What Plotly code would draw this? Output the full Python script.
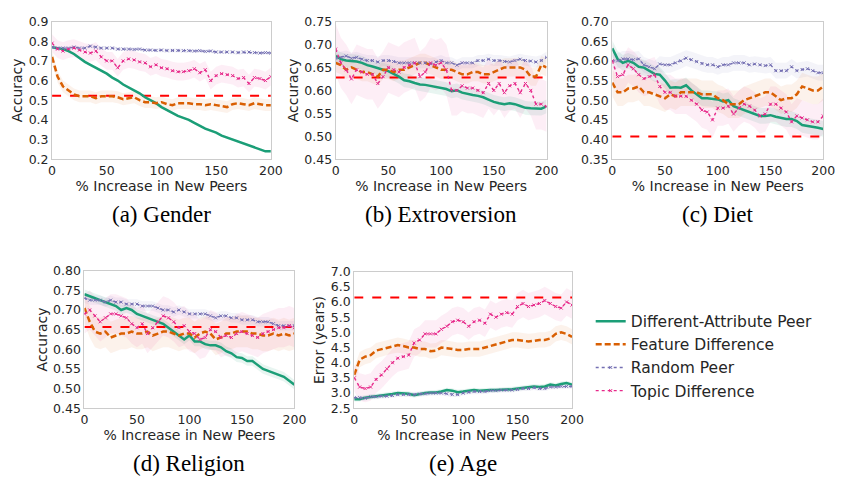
import plotly.graph_objects as go

x = list(range(0, 201, 5))

# (a) Gender
a_green = [0.77,0.765,0.76,0.75,0.735,0.715,0.695,0.68,0.665,0.65,0.635,0.615,0.6,0.58,0.565,0.55,0.535,0.515,0.5,0.485,0.465,0.45,0.435,0.42,0.41,0.4,0.385,0.37,0.355,0.345,0.335,0.32,0.31,0.3,0.29,0.28,0.27,0.26,0.25,0.24,0.24]
a_orange = [0.72,0.62,0.57,0.55,0.53,0.52,0.52,0.52,0.51,0.52,0.52,0.52,0.515,0.505,0.51,0.515,0.5,0.49,0.49,0.485,0.49,0.48,0.475,0.485,0.485,0.485,0.48,0.48,0.475,0.48,0.475,0.47,0.465,0.48,0.485,0.48,0.475,0.485,0.48,0.475,0.475]
a_purple = [0.77,0.765,0.765,0.765,0.77,0.765,0.765,0.775,0.77,0.765,0.765,0.765,0.76,0.76,0.76,0.758,0.76,0.755,0.755,0.753,0.755,0.752,0.753,0.753,0.752,0.752,0.75,0.752,0.748,0.75,0.745,0.745,0.745,0.745,0.742,0.745,0.745,0.742,0.74,0.742,0.74]
a_pink = [0.79,0.76,0.75,0.76,0.765,0.755,0.745,0.74,0.75,0.72,0.7,0.7,0.665,0.7,0.71,0.705,0.695,0.69,0.67,0.68,0.665,0.66,0.65,0.645,0.645,0.65,0.66,0.64,0.655,0.6,0.625,0.635,0.63,0.625,0.61,0.615,0.585,0.615,0.61,0.6,0.62]
a_base = 0.523

# (b) Extroversion
b_green = [0.675,0.668,0.665,0.664,0.663,0.66,0.655,0.652,0.648,0.645,0.642,0.636,0.63,0.622,0.62,0.616,0.613,0.612,0.61,0.607,0.605,0.603,0.598,0.6,0.595,0.592,0.59,0.588,0.585,0.58,0.575,0.572,0.57,0.572,0.57,0.566,0.562,0.561,0.56,0.56,0.565]
b_orange = [0.66,0.655,0.645,0.65,0.645,0.64,0.64,0.635,0.63,0.645,0.645,0.64,0.645,0.645,0.65,0.655,0.66,0.66,0.655,0.65,0.645,0.645,0.645,0.64,0.635,0.635,0.64,0.64,0.635,0.635,0.64,0.645,0.65,0.65,0.65,0.65,0.645,0.63,0.63,0.655,0.65]
b_purple = [0.67,0.672,0.675,0.67,0.672,0.668,0.665,0.665,0.662,0.665,0.665,0.663,0.66,0.66,0.66,0.66,0.66,0.66,0.658,0.662,0.665,0.66,0.66,0.655,0.66,0.66,0.66,0.665,0.665,0.668,0.665,0.665,0.663,0.662,0.665,0.668,0.665,0.664,0.662,0.665,0.672]
b_pink = [0.69,0.66,0.645,0.625,0.645,0.64,0.635,0.635,0.615,0.63,0.65,0.645,0.64,0.65,0.655,0.66,0.63,0.64,0.66,0.655,0.66,0.645,0.6,0.6,0.61,0.605,0.605,0.6,0.595,0.615,0.6,0.615,0.595,0.61,0.615,0.595,0.615,0.6,0.57,0.57,0.565]
b_base = 0.628

# (c) Diet
c_green = [0.632,0.605,0.595,0.6,0.595,0.585,0.583,0.575,0.567,0.565,0.55,0.532,0.533,0.532,0.538,0.525,0.515,0.505,0.505,0.503,0.502,0.497,0.5,0.485,0.48,0.475,0.47,0.465,0.46,0.46,0.462,0.458,0.455,0.452,0.452,0.447,0.437,0.435,0.433,0.43,0.427]
c_orange = [0.545,0.52,0.52,0.53,0.53,0.535,0.52,0.52,0.515,0.51,0.505,0.515,0.51,0.52,0.52,0.52,0.52,0.515,0.515,0.515,0.505,0.5,0.49,0.49,0.49,0.5,0.505,0.51,0.515,0.52,0.52,0.51,0.5,0.505,0.505,0.515,0.535,0.53,0.525,0.525,0.535]
c_purple = [0.6,0.6,0.605,0.605,0.603,0.605,0.59,0.585,0.58,0.592,0.59,0.59,0.595,0.6,0.607,0.603,0.598,0.593,0.59,0.59,0.585,0.59,0.59,0.595,0.595,0.595,0.59,0.592,0.59,0.588,0.59,0.575,0.575,0.575,0.585,0.575,0.578,0.58,0.575,0.57,0.57]
c_pink = [0.6,0.56,0.565,0.59,0.58,0.565,0.555,0.56,0.565,0.535,0.52,0.52,0.51,0.51,0.51,0.5,0.49,0.475,0.47,0.45,0.48,0.48,0.485,0.465,0.48,0.49,0.485,0.475,0.46,0.465,0.49,0.49,0.48,0.47,0.445,0.46,0.455,0.45,0.445,0.445,0.46]
c_base = 0.408

# (d) Religion
d_green = [0.74,0.735,0.73,0.725,0.72,0.715,0.71,0.7,0.705,0.7,0.69,0.685,0.68,0.675,0.67,0.665,0.655,0.645,0.635,0.625,0.635,0.62,0.62,0.613,0.61,0.61,0.605,0.595,0.59,0.58,0.578,0.57,0.57,0.56,0.55,0.545,0.54,0.535,0.53,0.52,0.51]
d_orange = [0.705,0.67,0.645,0.64,0.645,0.63,0.635,0.64,0.64,0.645,0.64,0.64,0.645,0.635,0.64,0.645,0.645,0.64,0.635,0.64,0.64,0.63,0.64,0.645,0.64,0.625,0.63,0.64,0.64,0.645,0.645,0.645,0.64,0.64,0.635,0.635,0.64,0.635,0.64,0.635,0.64]
d_purple = [0.73,0.725,0.725,0.725,0.72,0.725,0.72,0.72,0.715,0.715,0.715,0.71,0.71,0.71,0.705,0.7,0.7,0.695,0.7,0.695,0.69,0.69,0.69,0.69,0.685,0.68,0.685,0.685,0.68,0.68,0.675,0.675,0.675,0.67,0.67,0.67,0.665,0.66,0.66,0.66,0.66]
d_pink = [0.69,0.7,0.685,0.67,0.68,0.69,0.69,0.685,0.68,0.665,0.655,0.665,0.64,0.655,0.67,0.685,0.68,0.67,0.655,0.66,0.645,0.64,0.625,0.63,0.65,0.645,0.63,0.635,0.63,0.64,0.645,0.64,0.635,0.63,0.64,0.645,0.65,0.655,0.655,0.66,0.655]
d_base = 0.657

# (e) Age
e_green = [2.8,2.8,2.85,2.87,2.9,2.92,2.95,2.97,3.0,3.0,2.98,2.93,2.97,3.0,3.02,3.02,3.05,3.1,3.08,3.03,3.05,3.08,3.1,3.08,3.1,3.1,3.1,3.12,3.12,3.13,3.15,3.18,3.2,3.22,3.2,3.22,3.28,3.25,3.3,3.33,3.28]
e_orange = [3.6,4.1,4.2,4.25,4.4,4.45,4.5,4.55,4.58,4.55,4.5,4.5,4.45,4.45,4.38,4.4,4.5,4.48,4.45,4.42,4.42,4.45,4.45,4.45,4.5,4.55,4.6,4.65,4.7,4.75,4.75,4.72,4.7,4.72,4.75,4.75,4.8,4.95,5.0,4.95,4.85]
e_purple = [2.85,2.85,2.83,2.88,2.88,2.9,2.9,2.92,2.95,2.95,2.95,2.95,2.97,2.98,3.0,3.0,3.0,2.98,2.95,2.95,3.0,3.03,3.05,3.05,3.05,3.08,3.08,3.1,3.1,3.1,3.12,3.15,3.15,3.18,3.15,3.15,3.2,3.2,3.22,3.22,3.22]
e_pink = [3.5,3.2,3.15,3.2,3.45,3.6,3.8,4.0,4.15,4.2,4.25,4.65,4.75,4.95,4.95,4.95,5.1,5.2,5.35,5.4,5.35,5.2,5.35,5.4,5.3,5.6,5.5,5.6,5.65,5.6,5.85,5.95,5.85,5.9,5.95,6.05,5.95,5.85,5.8,6.0,5.9]
e_base = 6.15

# band half-widths (green, orange, purple, pink) per panel
bands = {
    "a": [0.006, 0.03, 0.01, 0.045],
    "b": [0.015, 0.02, 0.012, 0.055],
    "c": [0.02, 0.035, 0.02, 0.045],
    "d": [0.012, 0.04, 0.012, 0.05],
    "e": [0.08, 0.25, 0.08, 0.45],
}

names = ["Different-Attribute Peer", "Feature Difference", "Random Peer", "Topic Difference"]
colors = ["#1b9e77", "#d95f02", "#7570b3", "#e7298a"]
fills = ["rgba(27,158,119,0.10)", "rgba(217,95,2,0.08)", "rgba(117,112,179,0.08)", "rgba(231,41,138,0.08)"]
dashes = ["solid", "6px,3px", "dot", "dot"]
widths = [2.5, 2.5, 1.4, 1.4]
modes = ["lines", "lines", "lines+markers", "lines+markers"]

panels = [
    ("a", [a_green, a_orange, a_purple, a_pink], a_base, [0.2, 0.9], [0.2,0.3,0.4,0.5,0.6,0.7,0.8,0.9], ["0.2","0.3","0.4","0.5","0.6","0.7","0.8","0.9"], "Accuracy", "(a) Gender"),
    ("b", [b_green, b_orange, b_purple, b_pink], b_base, [0.45, 0.75], [0.45,0.5,0.55,0.6,0.65,0.7,0.75], ["0.45","0.50","0.55","0.60","0.65","0.70","0.75"], "Accuracy", "(b) Extroversion"),
    ("c", [c_green, c_orange, c_purple, c_pink], c_base, [0.35, 0.70], [0.35,0.4,0.45,0.5,0.55,0.6,0.65,0.7], ["0.35","0.40","0.45","0.50","0.55","0.60","0.65","0.70"], "Accuracy", "(c) Diet"),
    ("d", [d_green, d_orange, d_purple, d_pink], d_base, [0.45, 0.80], [0.45,0.5,0.55,0.6,0.65,0.7,0.75,0.8], ["0.45","0.50","0.55","0.60","0.65","0.70","0.75","0.80"], "Accuracy", "(d) Religion"),
    ("e", [e_green, e_orange, e_purple, e_pink], e_base, [2.5, 7.0], [2.5,3,3.5,4,4.5,5,5.5,6,6.5,7], ["2.5","3.0","3.5","4.0","4.5","5.0","5.5","6.0","6.5","7.0"], "Error (years)", "(e) Age"),
]

W, H = 847, 487
# pixel boxes (left, right, top, bottom)
boxes = [(49, 272, 14, 156), (338, 553, 14, 156), (620, 835, 14, 156), (82, 296, 271, 413), (357, 579, 272, 413)]
cap_y = [213, 213, 213, 470, 470]

fig = go.Figure()
layout = {}
annotations = []
for i, (key, series, base, yr, tv, tt, ytitle, cap) in enumerate(panels):
    n = i + 1
    xa = "x" if n == 1 else f"x{n}"
    ya = "y" if n == 1 else f"y{n}"
    for j in range(4):
        s = series[j]
        hw = bands[key][j]
        up = [v + hw for v in s]
        lo = [v - hw for v in s]
        fig.add_trace(go.Scatter(x=x + x[::-1], y=up + lo[::-1], fill="toself", fillcolor=fills[j],
                                 line=dict(width=0), mode="lines", hoverinfo="skip", showlegend=False,
                                 xaxis=xa, yaxis=ya))
    fig.add_trace(go.Scatter(x=[0, 200], y=[base, base], mode="lines",
                             line=dict(color="#ff0000", width=2, dash="dash"), showlegend=False,
                             xaxis=xa, yaxis=ya))
    for j in range(4):
        fig.add_trace(go.Scatter(x=x, y=series[j], mode=modes[j], name=names[j],
                                 line=dict(color=colors[j], width=widths[j], dash=dashes[j]),
                                 marker=dict(symbol="x-thin", size=3, line=dict(width=1, color=colors[j])),
                                 showlegend=(i == 0), legendgroup=names[j],
                                 xaxis=xa, yaxis=ya))
    l, r, t, b = boxes[i]
    axis_common = dict(showline=True, mirror=True, linecolor="#cccccc", linewidth=1, showgrid=False,
                       zeroline=False, ticks="", tickfont=dict(family="DejaVu Sans", size=12.5, color="#262626"))
    layout["xaxis" if n == 1 else f"xaxis{n}"] = dict(
        domain=[l / W, r / W], anchor=ya, range=[0, 200], tickvals=[0, 50, 100, 150, 200],
        title=dict(text="% Increase in New Peers", font=dict(family="DejaVu Sans", size=14, color="#262626"), standoff=0),
        **axis_common)
    layout["yaxis" if n == 1 else f"yaxis{n}"] = dict(
        domain=[1 - b / H, 1 - t / H], anchor=xa, range=yr, tickvals=tv, ticktext=tt,
        title=dict(text=ytitle, font=dict(family="DejaVu Sans", size=14, color="#262626"), standoff=2),
        **axis_common)
    annotations.append(dict(text=cap, x=(l + r) / 2 / W, y=1 - cap_y[i] / H, xref="paper", yref="paper",
                            showarrow=False, xanchor="center", yanchor="middle",
                            font=dict(family="Liberation Serif", size=23, color="black")))

fig.update_layout(
    width=W, height=H, margin=dict(l=0, r=0, t=0, b=0),
    paper_bgcolor="white", plot_bgcolor="white",
    showlegend=True,
    legend=dict(x=598 / W, y=1 - 306 / H, xanchor="left", yanchor="top",
                font=dict(family="DejaVu Sans", size=15.5, color="#262626"),
                bgcolor="rgba(0,0,0,0)", tracegroupgap=0),
    annotations=annotations,
    **layout,
)

fig.write_html("out.html")
